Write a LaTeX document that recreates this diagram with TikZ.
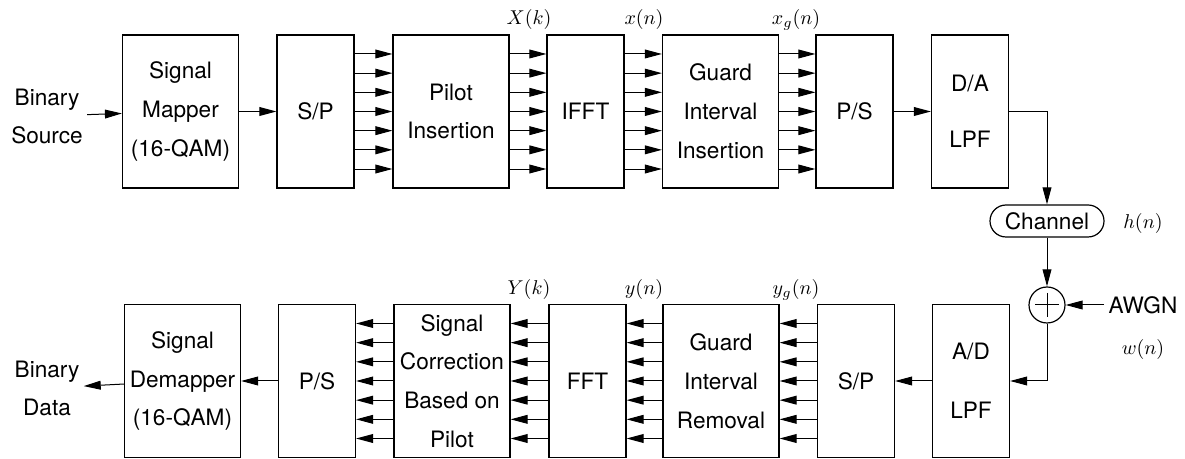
\documentclass[tikz,border=0pt]{standalone}
\usepackage{fontspec}
\setmainfont{TeX Gyre Heros}
\usetikzlibrary{positioning,arrows.meta,calc}

\begin{document}
\begin{tikzpicture}[
    x=0.5pt, y=-0.5pt,
    >={Triangle[length=8.5pt,width=4.4pt]},
    blk/.style={draw, line width=0.6pt, minimum height=76.5pt, align=center,
                font=\fontsize{11.3}{19.4}\selectfont, inner sep=0pt},
    wbox/.style={blk, minimum width=58pt},
    nbox/.style={blk, minimum width=38.5pt},
    txt/.style={align=center, font=\fontsize{11.3}{19}\selectfont, inner sep=2pt},
    sig/.style={font=\fontsize{10}{12}\selectfont, inner sep=0pt},
    wire/.style={line width=0.5pt},
]
\useasboundingbox (0,0) rectangle (1185,459);

% Transmitter (top row)
\node[txt] (src) at (47,116) {Binary\\Source};
\node[wbox] (map) at (180.5,111.5) {Signal\\Mapper\\(16-QAM)};
\node[nbox] (sp) at (315.5,111.5) {S/P};
\node[wbox] (pil) at (451,111.5) {Pilot\\Insertion};
\node[nbox] (ifft) at (585.5,111.5) {IFFT};
\node[wbox] (gii) at (720.5,111.5) {Guard\\Interval\\Insertion};
\node[nbox] (ps) at (854.5,111.5) {P/S};
\node[nbox] (da) at (970,111.5) {D/A\\[8.5pt]LPF};

% Signal labels (top)
\node[sig] (lXk) at (529,20) {$X(k)$};
\node[sig] (lxn) at (644,20) {$x(n)$};
\node[sig] (lxg) at (796,20) {$x_g(n)$};

% Channel
\node[draw, line width=0.6pt, rounded corners=8pt, minimum width=57pt,
      minimum height=16pt, font=\fontsize{11.3}{19}\selectfont,
      inner sep=0pt] (chan) at (1047,221) {Channel};
\node[sig] (lhn) at (1143,224) {$h(n)$};
\node[draw, circle, line width=0.6pt, minimum size=18pt, inner sep=0pt] (sum) at (1047,305) {};
\draw[wire] ($(sum.center)+(-12,0)$) -- ($(sum.center)+(12,0)$);
\draw[wire] ($(sum.center)+(0,-12)$) -- ($(sum.center)+(0,12)$);
\node[txt] (awgn) at (1143,305) {AWGN};
\node[sig] (lwn) at (1143,350) {$w(n)$};

% Receiver (bottom row)
\node[txt] (dst) at (47,388) {Binary\\Data};
\node[wbox] (demap) at (182.5,381) {Signal\\Demapper\\(16-QAM)};
\node[nbox] (ps2) at (317,381) {P/S};
\node[wbox] (cor) at (452,381) {Signal\\Correction\\Based on\\Pilot};
\node[nbox] (fft) at (587.5,381) {FFT};
\node[wbox] (gir) at (721,381) {Guard\\Interval\\Removal};
\node[nbox] (sp2) at (856,381) {S/P};
\node[nbox] (ad) at (971,381) {A/D\\[10pt]LPF};

% Signal labels (bottom)
\node[sig] (lYk) at (529,290) {$Y(k)$};
\node[sig] (lyn) at (644,290) {$y(n)$};
\node[sig] (lyg) at (796,290) {$y_g(n)$};

% Serial connections
\draw[wire,->] (src) -- (map);
\draw[wire,->] (map) -- (sp);
\draw[wire,->] (ps) -- (da);
\draw[wire,->] (da.east) -| (chan.north);
\draw[wire,->] (chan) -- (sum);
\draw[wire,->] (awgn) -- (sum);
\draw[wire,->] (sum.south) |- (ad.east);
\draw[wire,->] (ad) -- (sp2);
\draw[wire,->] (ps2) -- (demap);
\draw[wire,->] (demap) -- (dst);

% Parallel connections
\foreach \a/\b in {sp/pil, pil/ifft, ifft/gii, gii/ps}
  \foreach \i in {-3,...,3}
    \draw[wire,->] ($(\a.east)+(0,\i*19.17)$) -- ($(\b.west)+(0,\i*19.17)$);
\foreach \a/\b in {sp2/gir, gir/fft, fft/cor, cor/ps2}
  \foreach \i in {-3,...,3}
    \draw[wire,->] ($(\a.west)+(0,\i*19.17)$) -- ($(\b.east)+(0,\i*19.17)$);
\end{tikzpicture}
\end{document}
